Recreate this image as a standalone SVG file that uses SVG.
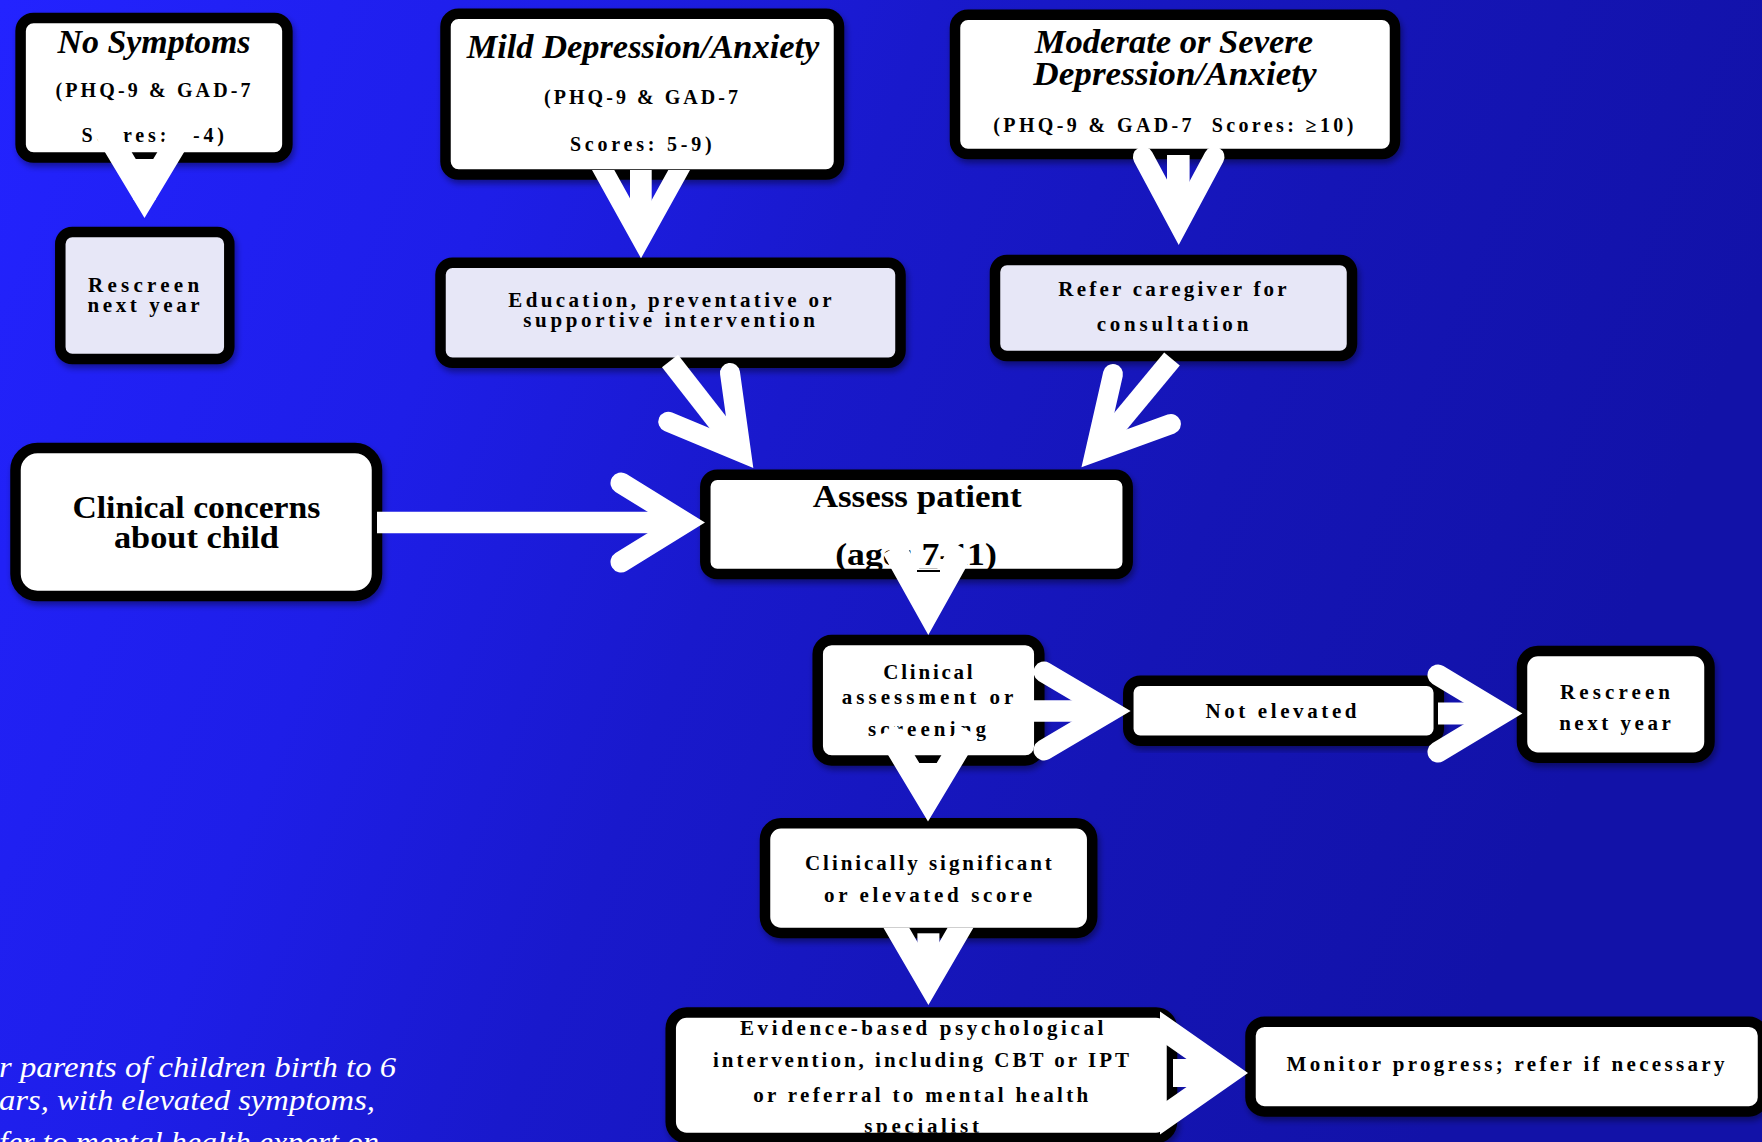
<svg xmlns="http://www.w3.org/2000/svg" width="1762" height="1142" viewBox="0 0 1762 1142">
<defs>
<linearGradient id="bg" x1="0" y1="0" x2="1" y2="0.25">
<stop offset="0" stop-color="#2323FF"/>
<stop offset="0.3" stop-color="#1E1EE8"/>
<stop offset="0.5" stop-color="#1919CC"/>
<stop offset="0.75" stop-color="#1515B6"/>
<stop offset="1" stop-color="#1212A8"/>
</linearGradient>
<filter id="sh" x="-10%" y="-10%" width="120%" height="130%">
<feDropShadow dx="2" dy="4" stdDeviation="3" flood-color="#000" flood-opacity="0.4"/>
</filter>
<clipPath id="evclip"><rect x="676" y="1018.3" width="490.6" height="114.4"/></clipPath>
<style>
.box{fill:#fff;stroke:#000;stroke-width:10.5;filter:url(#sh)}
.lav{fill:#E7E7F7}
text{font-family:"Liberation Serif",serif;font-weight:bold;fill:#000;text-anchor:middle}
.h{font-style:italic;font-size:33px}
.b{font-size:20px}
.m{font-size:21px}
.big{font-size:32px}
.note{font-style:italic;font-weight:normal;font-size:30px;fill:#fff;text-anchor:start}
.arm{fill:none;stroke:#fff;stroke-linejoin:miter;stroke-miterlimit:10}
.shaft{fill:none;stroke:#fff;stroke-linecap:butt}
.wf{fill:#fff}
</style>
</defs>
<rect x="0" y="0" width="1762" height="1142" fill="url(#bg)"/>

<g id="note">
<text class="note" x="-1" y="1077" textLength="397" lengthAdjust="spacingAndGlyphs">r parents of children birth to 6</text>
<text class="note" x="-1" y="1110" textLength="376" lengthAdjust="spacingAndGlyphs">ars, with elevated symptoms,</text>
<text class="note" x="-1" y="1152" textLength="380" lengthAdjust="spacingAndGlyphs">fer to mental health expert on</text>
</g>

<g id="no-symptoms">
<rect class="box" x="20.6" y="18" width="266.8" height="139.5" rx="13"/>
<text class="h" x="154" y="53" textLength="193" lengthAdjust="spacingAndGlyphs">No Symptoms</text>
<text class="b" x="153" y="97" textLength="195">(PHQ-9 &amp; GAD-7</text>
<text class="b" x="152.7" y="142" textLength="142.5">Scores: 0-4)</text>
</g>

<g id="rescreen-1">
<rect class="box lav" x="60.3" y="232" width="169" height="127" rx="12"/>
<text class="m" x="143.6" y="291.7" textLength="111">Rescreen</text>
<text class="m" x="143.6" y="311.7" textLength="112">next year</text>
</g>

<g id="mild">
<rect class="box" x="445.5" y="13.7" width="393.5" height="160.8" rx="13"/>
<text class="h" x="643" y="58.3" textLength="352.7" lengthAdjust="spacingAndGlyphs">Mild Depression/Anxiety</text>
<text class="b" x="641" y="104" textLength="194">(PHQ-9 &amp; GAD-7</text>
<text class="b" x="640.8" y="150.7" textLength="141.7">Scores: 5-9)</text>
</g>

<g id="education">
<rect class="box lav" x="440.5" y="262.8" width="460" height="100" rx="12"/>
<text class="m" x="670" y="306.7" textLength="323.3">Education, preventative or</text>
<text class="m" x="669" y="327.3" textLength="291.7">supportive intervention</text>
</g>

<g id="moderate">
<rect class="box" x="955" y="14.7" width="440" height="139.3" rx="13"/>
<text class="h" x="1174" y="53.3" textLength="278.3" lengthAdjust="spacingAndGlyphs">Moderate or Severe</text>
<text class="h" x="1175" y="85" textLength="283.3" lengthAdjust="spacingAndGlyphs">Depression/Anxiety</text>
<text class="b" x="1173.3" y="131.7" textLength="360">(PHQ-9 &amp; GAD-7&#160; Scores: ≥10)</text>
</g>

<g id="refer">
<rect class="box lav" x="995" y="260" width="357" height="96" rx="12"/>
<text class="m" x="1172.5" y="296" textLength="228.3">Refer caregiver for</text>
<text class="m" x="1172.5" y="331" textLength="151.7">consultation</text>
</g>

<g id="clinical-concerns">
<rect class="box" x="15.5" y="448" width="361.5" height="148" rx="22"/>
<text class="big" x="196.4" y="517.7" textLength="248" lengthAdjust="spacingAndGlyphs">Clinical concerns</text>
<text class="big" x="196.4" y="548.3" textLength="165" lengthAdjust="spacingAndGlyphs">about child</text>
</g>

<g id="assess">
<rect class="box" x="705.3" y="474.7" width="422.4" height="99.3" rx="12"/>
<text class="big" x="917.2" y="506.7" textLength="209" lengthAdjust="spacingAndGlyphs">Assess patient</text>
<text class="big" x="916" y="565" textLength="161.7" lengthAdjust="spacingAndGlyphs">(ages 7-11)</text>
</g>

<g id="clinical-assessment">
<rect class="box" x="817.7" y="640" width="221.6" height="120.5" rx="14"/>
<text class="m" x="928" y="679.3" textLength="89.3">Clinical</text>
<text class="m" x="927.5" y="704.3" textLength="171.7">assessment or</text>
<text class="m" x="927" y="736" textLength="118">screening</text>
</g>

<g id="not-elevated">
<rect class="box" x="1128.3" y="680.8" width="310.5" height="60" rx="12"/>
<text class="m" x="1281" y="717.7" textLength="151">Not elevated</text>
</g>

<g id="rescreen-2">
<rect class="box" x="1522" y="651" width="187.5" height="106.7" rx="16"/>
<text class="m" x="1615" y="699" textLength="110">Rescreen</text>
<text class="m" x="1615" y="730" textLength="111.7">next year</text>
</g>

<g id="clinically-significant">
<rect class="box" x="765" y="823.3" width="327.2" height="109.7" rx="16"/>
<text class="m" x="928.4" y="870" textLength="246.8">Clinically significant</text>
<text class="m" x="928" y="901.7" textLength="208">or elevated score</text>
</g>

<g id="evidence">
<rect class="box" x="670.7" y="1012.5" width="501.3" height="125.5" rx="16"/>
<g clip-path="url(#evclip)">
<text class="m" x="921.7" y="1035" textLength="363.5">Evidence-based psychological</text>
<text class="m" x="921" y="1066.7" textLength="416">intervention, including CBT or IPT</text>
<text class="m" x="920.7" y="1101.7" textLength="335">or referral to mental health</text>
<text class="m" x="921.6" y="1133.3" textLength="114.7">specialist</text>
</g>
</g>

<g id="monitor">
<rect class="box" x="1250.5" y="1021.7" width="512.5" height="89.7" rx="14"/>
<text class="m" x="1505.5" y="1070.7" textLength="438">Monitor progress; refer if necessary</text>
</g>

<g id="connectors">
<!-- No Symptoms -> Rescreen -->
<polyline class="arm" points="103.2,127 144.5,195.8 185.8,127" stroke-width="22.9" stroke-linecap="butt"/>
<line class="shaft" x1="144.5" y1="159" x2="144.5" y2="200" stroke-width="22"/>
<!-- Mild -> Education -->
<path class="wf" fill-rule="evenodd" d="M592,170 L690,170 L641,258.3 Z M614.3,170 L668.3,170 L641.3,218.7 Z"/>
<rect class="wf" x="630" y="170" width="21.7" height="52"/>
<!-- Moderate -> Refer -->
<polyline class="arm" points="1143.2,157 1178.7,223.2 1214.2,157" stroke-width="20.6" stroke-linecap="round"/>
<rect class="wf" x="1167" y="155" width="22.6" height="60"/>
<!-- Education -> Assess -->
<line class="shaft" x1="670" y1="361" x2="741" y2="452" stroke-width="20.3"/>
<polyline class="arm" points="730,373 741,452 668.3,421.7" stroke-width="20" stroke-linecap="round"/>
<!-- Refer -> Assess -->
<line class="shaft" x1="1172" y1="359" x2="1095.3" y2="451.5" stroke-width="20.3"/>
<polyline class="arm" points="1113,374 1095.3,451.5 1171,424" stroke-width="20" stroke-linecap="round"/>
<!-- Clinical concerns -> Assess -->
<line class="shaft" x1="377" y1="522.5" x2="685" y2="522.5" stroke-width="21.7"/>
<polyline class="arm" points="621,483 685,522.5 621,562" stroke-width="21" stroke-linecap="round"/>
<!-- Assess -> Clinical assessment -->
<polyline class="arm" points="893.7,548 928.3,610 962.9,548" stroke-width="24.4" stroke-linecap="butt"/>
<line class="shaft" x1="928.3" y1="569" x2="928.3" y2="612" stroke-width="22"/>
<line x1="917" y1="571" x2="940" y2="571" stroke="#000" stroke-width="2"/>
<!-- Clinical assessment -> Clinically significant -->
<polyline class="arm" points="886.9,731 928,799.5 969.1,731" stroke-width="22.7" stroke-linecap="butt"/>
<line class="shaft" x1="928" y1="763" x2="928" y2="802" stroke-width="22"/>
<!-- Clinical assessment -> Not elevated -->
<line class="shaft" x1="1033" y1="711" x2="1110" y2="711" stroke-width="21.7"/>
<polyline class="arm" points="1044,672 1110,711 1044,750" stroke-width="21" stroke-linecap="round"/>
<!-- Not elevated -> Rescreen -->
<line class="shaft" x1="1438" y1="713.5" x2="1502" y2="713.5" stroke-width="22"/>
<polyline class="arm" points="1438,675 1502,713.5 1438,752" stroke-width="21" stroke-linecap="round"/>
<!-- Clinically significant -> Evidence -->
<path class="wf" fill-rule="evenodd" d="M883.4,927.7 L973.4,927.7 L928.4,1005 Z M909.2,927.7 L947.6,927.7 L928.4,960.7 Z"/>
<rect class="wf" x="917.4" y="933.3" width="22" height="32"/>
<!-- Evidence -> Monitor -->
<path class="wf" fill-rule="evenodd" d="M1160,1011.4 L1248,1073 L1160,1134.6 Z M1160,1040.4 L1206.6,1073 L1160,1105.6 Z"/>
<rect class="wf" x="1173" y="1059" width="40" height="28"/>
</g>
</svg>
